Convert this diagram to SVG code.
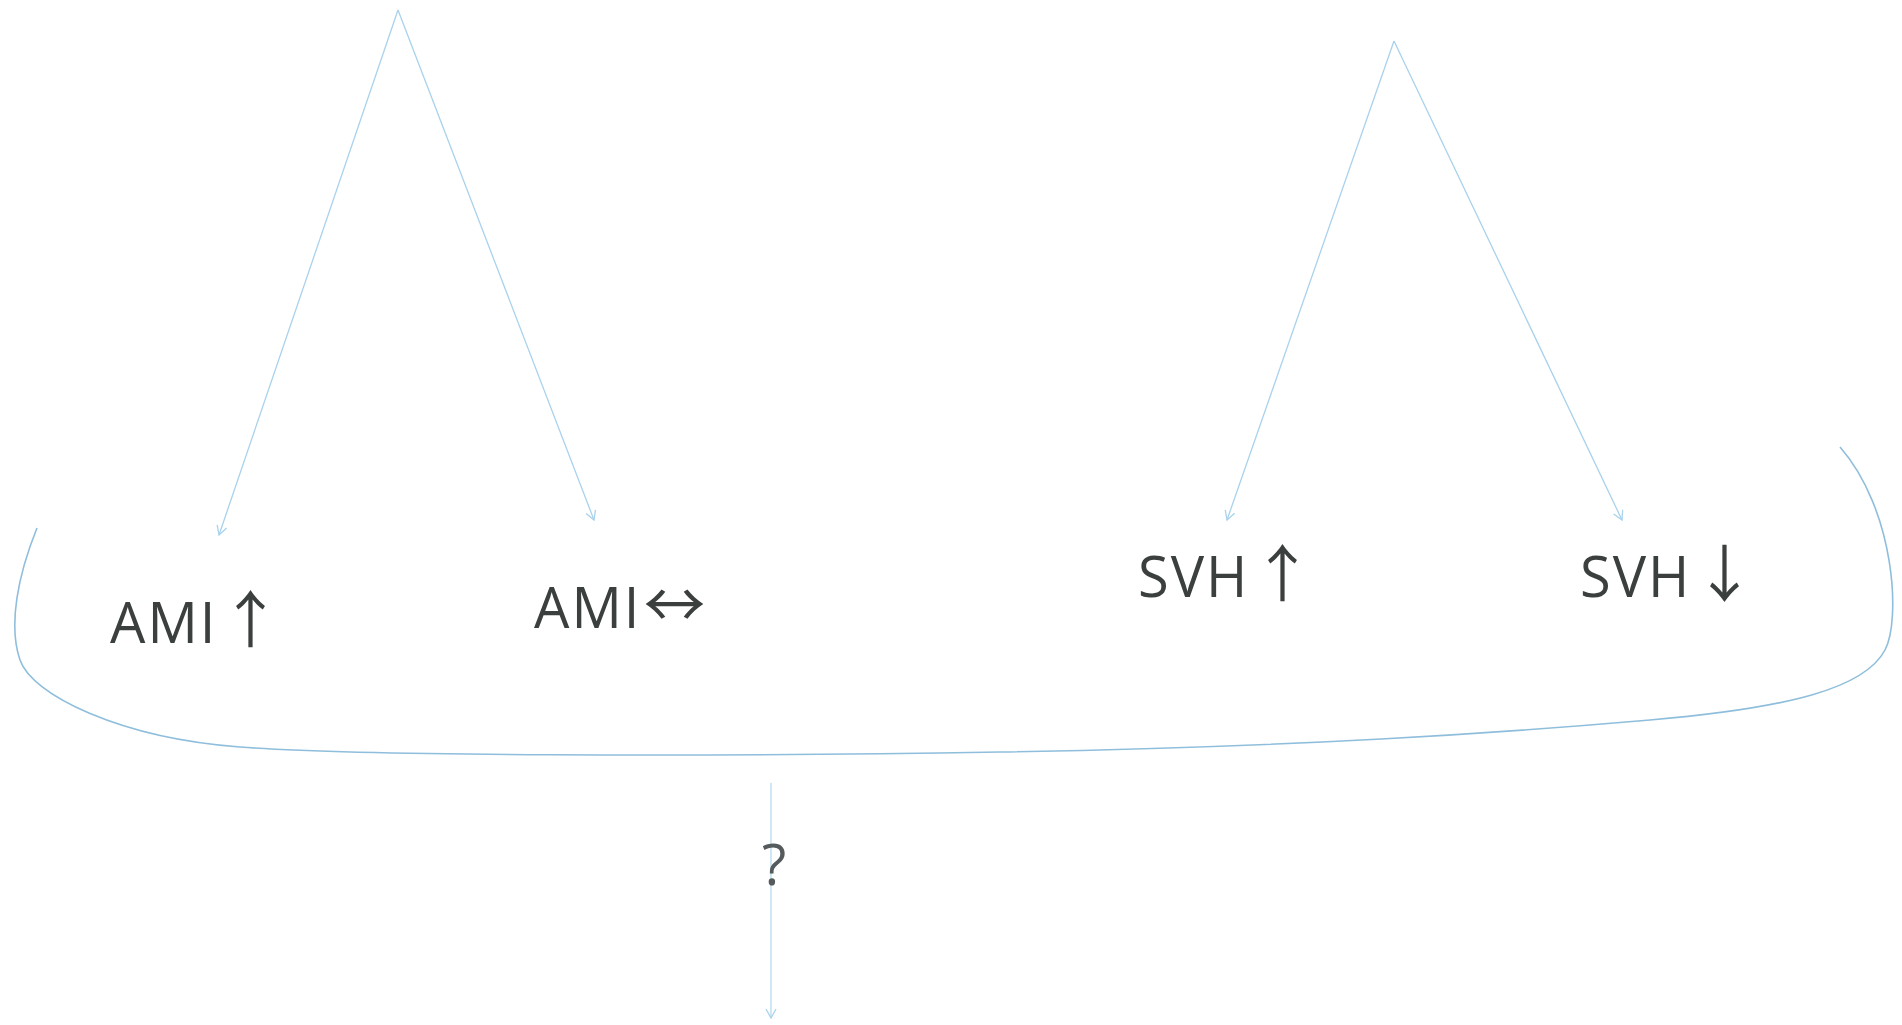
<svg xmlns="http://www.w3.org/2000/svg" width="1902" height="1025" viewBox="0 0 1902 1025">
<style>
.lbl{font-family:"Open Sans","Noto Sans",sans-serif;font-size:56px;fill:#3b403f;letter-spacing:2px}
.ar{font-family:"Noto Sans CJK SC","Noto Sans CJK JP",sans-serif;font-size:62px}
.q{font-family:"Open Sans","Noto Sans",sans-serif;font-size:56px;fill:#555a5c}
.con{stroke:#a9d2ec;stroke-width:1.3;fill:none}
.vcon{stroke:#c4e2f3;stroke-width:1.6;fill:none}
.brace{stroke:#8fbedc;stroke-width:1.6;fill:none}
</style>
<defs>
<marker id="arr" markerWidth="12" markerHeight="12" refX="10" refY="6" orient="auto" markerUnits="userSpaceOnUse">
<path d="M1,1 L10,6 L1,11" fill="none" stroke="#a9d2ec" stroke-width="1.3"/>
</marker>
</defs>
<rect width="1902" height="1025" fill="#ffffff"/>
<g id="connectors">
<line class="con" x1="398" y1="10" x2="219" y2="535" marker-end="url(#arr)"/>
<line class="con" x1="398" y1="10" x2="594" y2="520" marker-end="url(#arr)"/>
<line class="con" x1="1394" y1="41" x2="1227" y2="520" marker-end="url(#arr)"/>
<line class="con" x1="1394" y1="41" x2="1622" y2="520" marker-end="url(#arr)"/>
<line class="vcon" x1="771" y1="783" x2="771" y2="1018" marker-end="url(#arr)"/>
</g>
<g id="brace">
<path class="brace" d="M37 528 C18 575,8 625,20 660 C32 695,120 738,240 747 C360 756,700 757,1000 752 C1300 747,1500 733,1650 720 C1790 708,1865 688,1885 650 C1901 620,1895 510,1840 447"/>
</g>
<g id="node-ami-up"><text class="lbl" x="110" y="643">AMI<tspan class="ar" dx="2">↑</tspan></text></g>
<g id="node-ami-eq"><text class="lbl" x="534" y="628">AMI<tspan class="ar" dx="2">↔</tspan></text></g>
<g id="node-svh-up"><text class="lbl" x="1138" y="597">SVH<tspan class="ar" dx="2">↑</tspan></text></g>
<g id="node-svh-down"><text class="lbl" x="1580" y="597">SVH<tspan class="ar" dx="2">↓</tspan></text></g>
<g id="label-q"><text class="q" x="762" y="885">?</text></g>
</svg>
